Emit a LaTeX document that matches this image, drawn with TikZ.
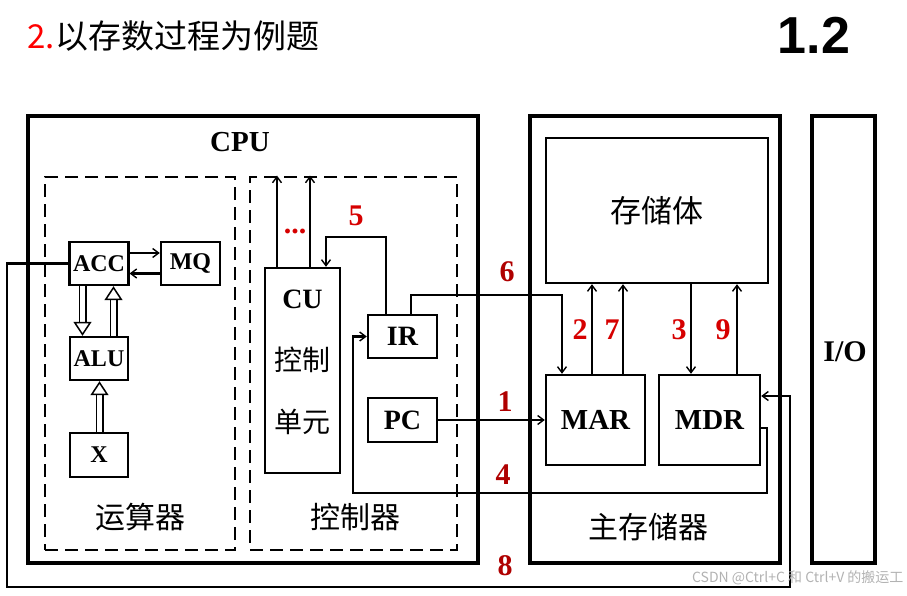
\documentclass[tikz,border=0pt]{standalone}
\usepackage{fontspec}
\setmainfont{Liberation Serif}
\newfontfamily\cjk{Noto Sans CJK SC}
\newfontfamily\headfont{Liberation Sans}
\usetikzlibrary{arrows.meta,calc}
\usepackage{xcolor}
\definecolor{numred}{RGB}{214,0,0}
\definecolor{darkred}{RGB}{175,0,0}

\begin{document}
\begin{tikzpicture}[x=1pt, y=-1pt,
  outerbox/.style={draw, line width=4pt},
  group/.style={draw, line width=2.8pt, dash pattern=on 13pt off 7pt},
  reg/.style={draw, line width=2.4pt, align=center, font=\bfseries\fontsize{24}{24}\selectfont},
  bigreg/.style={reg, font=\bfseries\fontsize{28}{28}\selectfont},
  zh/.style={font=\cjk\fontsize{30}{30}\selectfont},
  num/.style={text=numred, font=\bfseries\fontsize{30}{30}\selectfont},
  numd/.style={num, text=darkred},
  flow/.style={line width=2.3pt, -{Straight Barb[length=6pt, width=9pt, line width=1.4pt]}},
  fat/.style={double, double distance=5pt, line width=1.5pt, -{Triangle[open, length=14pt, width=18pt, line width=1.5pt]}}
]
  \useasboundingbox (0,0) rectangle (907,595);

  % heading
  \node[anchor=west, font=\cjk\fontsize{33}{33}\selectfont] (title) at (24,36) {\textcolor{red}{2.}以存数过程为例题};
  \node[font=\headfont\bfseries\fontsize{52}{52}\selectfont] (page) at (814,35) {1.2};

  % CPU
  \node[outerbox, minimum width=450, minimum height=447] (cpu) at (253,339.5) {};
  \node[font=\bfseries\fontsize{29}{29}\selectfont] (cpulbl) at (240,142) {CPU};
  \node[group, minimum width=190, minimum height=373] (alugrp) at (140,363.5) {};
  \node[group, minimum width=207, minimum height=373] (ctrlgrp) at (353.5,363.5) {};

  \node[reg, minimum width=58, minimum height=43] (acc) at (99,263.5) {ACC};
  \node[reg, minimum width=59, minimum height=43] (mq) at (190.5,263.5) {MQ};
  \node[reg, minimum width=58, minimum height=43] (alu) at (99,358.5) {ALU};
  \node[reg, minimum width=58, minimum height=44] (xreg) at (99,455) {X};
  \node[zh] (alulbl) at (140,517) {运算器};

  \node[reg, minimum width=75, minimum height=205] (cu) at (302.5,370.5) {};
  \node[align=center, font=\bfseries\fontsize{28}{62}\selectfont] (cutxt) at (302.5,362) {CU\\{\cjk\mdseries 控制}\\{\cjk\mdseries 单元}};
  \node[bigreg, minimum width=69, minimum height=43] (ir) at (402.5,336.5) {IR};
  \node[bigreg, minimum width=69, minimum height=44] (pc) at (402.5,420) {PC};
  \node[zh] (ctrllbl) at (355,517) {控制器};
  \node[num] (dots) at (295,231) {...};

  % main memory and I/O
  \node[outerbox, minimum width=250, minimum height=447] (mem) at (655,339.5) {};
  \node[reg, minimum width=222, minimum height=145, font=\cjk\fontsize{31}{31}\selectfont] (bank) at (657,210.5) {存储体};
  \node[reg, minimum width=99, minimum height=90, font=\bfseries\fontsize{29}{29}\selectfont] (mar) at (595.5,420) {MAR};
  \node[reg, minimum width=101, minimum height=90, font=\bfseries\fontsize{29}{29}\selectfont] (mdr) at (709.5,420) {MDR};
  \node[zh] (memlbl) at (648,527) {主存储器};
  \node[outerbox, minimum width=63, minimum height=447] (io) at (843.5,339.5) {};
  \node[font=\bfseries\fontsize{30}{30}\selectfont] (iolbl) at (845,352) {I/O};

  % inside the CPU
  \draw[flow] ([yshift=10.5]acc.east) -- ([yshift=10.5]mq.west);
  \draw[flow] ([yshift=-10]mq.west) -- ([yshift=-10]acc.west -| acc.east);
  \draw[fat] ([xshift=-16.5]acc.south) -- ([xshift=-16.5]alu.north);
  \draw[fat] ([xshift=14.5]alu.north) -- ([xshift=14.5]acc.south);
  \draw[fat] ([xshift=0.5]xreg.north) -- ([xshift=0.5]alu.south);
  \draw[flow] ([xshift=-25.5]cu.north) -- ([xshift=-25.5]cu.north |- ctrlgrp.north);
  \draw[flow] ([xshift=7.5]cu.north) -- ([xshift=7.5]cu.north |- ctrlgrp.north);

  % numbered steps
  \coordinate (c5) at (326,237);
  \coordinate (c6) at (562,295);
  \draw[flow] (pc.east) -- (pc.east -| mar.west);
  \node[numd] (n1) at (505,402) {1};
  \draw[flow] ([xshift=-3.5]mar.north) -- ([xshift=-3.5]mar.north |- bank.south);
  \node[num] (n2) at (580,330) {2};
  \draw[flow] ([xshift=-18.5]mdr.north |- bank.south) -- ([xshift=-18.5]mdr.north);
  \node[num] (n3) at (679,330) {3};
  \draw[flow] ([yshift=-8]mdr.east) -| (767,493) -- (353,493) |- (ir.west);
  \node[numd] (n4) at (503,475) {4};
  \draw[flow] ([xshift=-16.5]ir.north) |- (c5) -- ([xshift=23.5]cu.north);
  \node[num] (n5) at (356,216) {5};
  \draw[flow] ([xshift=8.5]ir.north) |- (c6) -- (c6 |- mar.north);
  \node[numd] (n6) at (507,272) {6};
  \draw[flow] ([xshift=27.5]mar.north) -- ([xshift=27.5]mar.north |- bank.south);
  \node[num] (n7) at (612,330) {7};
  \draw[flow] (acc.west) -| (7,587) -| (790,396) -- ([yshift=24]mdr.east);
  \node[numd] (n8) at (505,566) {8};
  \draw[flow] ([xshift=27.5]mdr.north) -- ([xshift=27.5]mdr.north |- bank.south);
  \node[num] (n9) at (723,330) {9};

  \node[anchor=east, text=black!30, font=\cjk\fontsize{14}{14}\selectfont] (mark) at (907,578) {CSDN @Ctrl+C 和 Ctrl+V 的搬运工};
\end{tikzpicture}
\end{document}
